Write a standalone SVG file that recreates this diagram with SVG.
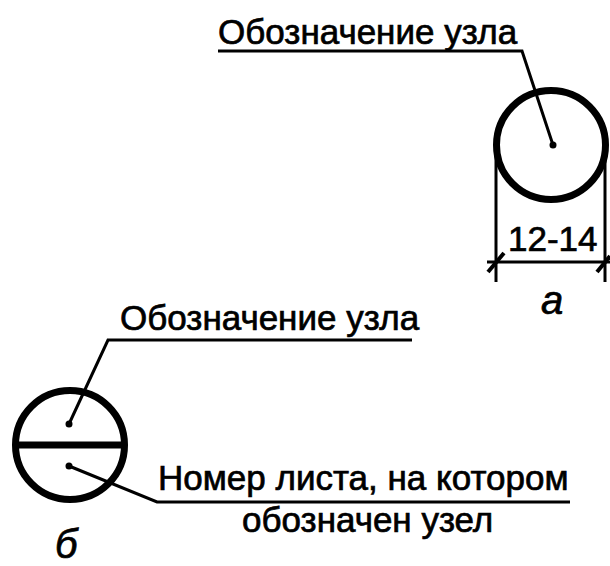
<svg xmlns="http://www.w3.org/2000/svg" width="610" height="566" viewBox="0 0 610 566">
<style>
.t{font-family:"Liberation Sans",Arial,sans-serif;font-size:35px;fill:#000;stroke:#000;stroke-width:0.7}
.i{font-family:"Liberation Sans",Arial,sans-serif;font-size:40px;font-style:italic;fill:#000;stroke:#000;stroke-width:0.7}
.thin{stroke:#000;stroke-width:3;fill:none}
.thick{stroke:#000;stroke-width:7;fill:none}
.tick{stroke:#000;stroke-width:4;fill:none}
</style>
<rect width="610" height="566" fill="#fff"/>
<g id="node-a">
<circle class="thick" cx="551" cy="145" r="54.5"/>
<circle cx="553" cy="145" r="3.5" fill="#000"/>
<text class="t" x="218" y="44">Обозначение узла</text>
<line class="thin" x1="496" y1="145" x2="496" y2="282"/>
<line class="thin" x1="605" y1="145" x2="605" y2="282"/>
<line class="thin" x1="487" y1="262" x2="610" y2="262"/>
<line class="tick" x1="488" y1="272" x2="504" y2="253"/>
<line class="tick" x1="597" y1="272" x2="610" y2="256"/>
<text class="t" x="508" y="251">12-14</text>
<text class="i" x="541" y="314">а</text>
</g>
<g id="node-b">
<circle class="thick" cx="70" cy="445" r="54.5"/>
<line class="thick" x1="16" y1="445" x2="124" y2="445"/>
<circle cx="69" cy="424" r="3.5" fill="#000"/>
<circle cx="69" cy="466" r="3.5" fill="#000"/>
<text class="t" x="120" y="330">Обозначение узла</text>
<text class="t" x="158" y="490">Номер листа, на котором</text>
<text class="t" x="242" y="532">обозначен узел</text>
<text class="i" x="55" y="558">б</text>
</g>
<g id="connectors">
<polyline class="thin" points="218,51 522,51 553,145"/>
<polyline class="thin" points="412,340 108,340 69,424"/>
<polyline class="thin" points="69,466 157,502 570,502"/>
</g>
</svg>
